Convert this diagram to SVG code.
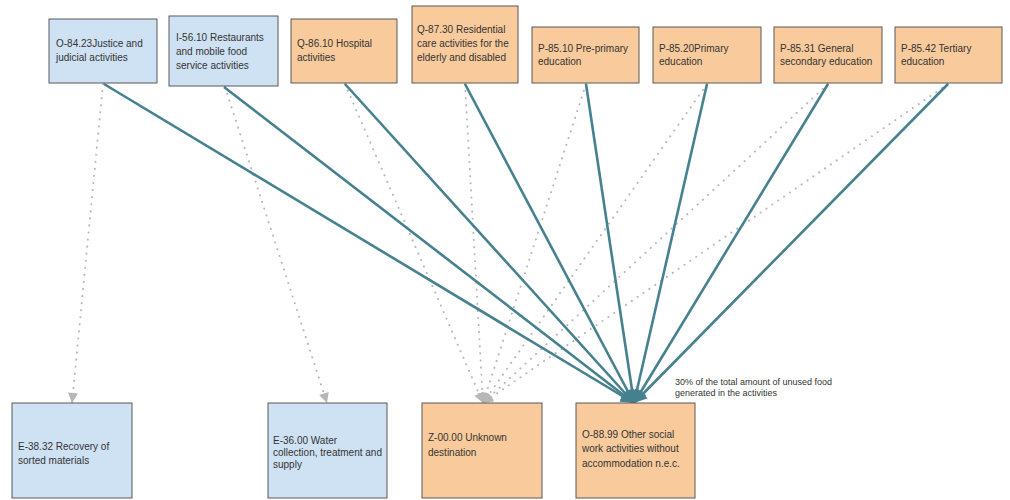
<svg xmlns="http://www.w3.org/2000/svg" width="1010" height="500" viewBox="0 0 1010 500">
<style>
.blue{fill:#cfe2f3;stroke:#595959;stroke-width:1}
.orange{fill:#f9cb9c;stroke:#595959;stroke-width:1}
.t{font-family:"Liberation Sans",Arial,sans-serif;font-size:10px;fill:#333}
.note{font-family:"Liberation Sans",Arial,sans-serif;font-size:9px;fill:#333}
.solid{stroke:#45818e;stroke-width:2.6;fill:none;marker-end:url(#teal)}
.dot{stroke:#b7b7b7;stroke-width:2;fill:none;stroke-linecap:round;stroke-dasharray:0.1 7;marker-end:url(#grey)}
</style>
<defs>
<marker id="teal" viewBox="0 0 10 10" refX="10" refY="5" markerWidth="15" markerHeight="13" markerUnits="userSpaceOnUse" orient="auto">
<path d="M0,0 L10,5 L0,10 z" fill="#45818e"/>
</marker>
<marker id="grey" viewBox="0 0 10 10" refX="10" refY="5" markerWidth="11" markerHeight="10" markerUnits="userSpaceOnUse" orient="auto">
<path d="M0,0 L10,5 L0,10 z" fill="#b7b7b7"/>
</marker>
</defs>
<rect width="1010" height="500" fill="#fff"/>
<g id="connectors">
<line class="dot" x1="103" y1="84" x2="72" y2="403"/>
<line class="dot" x1="225" y1="87" x2="327" y2="403"/>
<line class="dot" x1="345" y1="84" x2="483" y2="403"/>
<line class="dot" x1="465" y1="84" x2="483" y2="403"/>
<line class="dot" x1="586" y1="84" x2="483" y2="403"/>
<line class="dot" x1="707" y1="84" x2="483" y2="403"/>
<line class="dot" x1="828" y1="84" x2="483" y2="403"/>
<line class="dot" x1="948" y1="84" x2="483" y2="403"/>
<line class="solid" x1="104" y1="84" x2="634" y2="403"/>
<line class="solid" x1="224" y1="87" x2="634" y2="403"/>
<line class="solid" x1="345" y1="84" x2="634" y2="403"/>
<line class="solid" x1="465" y1="84" x2="634" y2="403"/>
<line class="solid" x1="586" y1="84" x2="634" y2="403"/>
<line class="solid" x1="707" y1="84" x2="634" y2="403"/>
<line class="solid" x1="828" y1="84" x2="634" y2="403"/>
<line class="solid" x1="948" y1="84" x2="634" y2="403"/>
<text class="note" x="675" y="385">30% of the total amount of unused food</text>
<text class="note" x="675" y="396">generated in the activities</text>
</g>
<g id="n-o8423"><rect class="blue" x="49" y="19" width="108" height="64"/><text class="t" x="56" y="47">O-84.23Justice and</text><text class="t" x="56" y="61">judicial activities</text></g>
<g id="n-i5610"><rect class="blue" x="169" y="16" width="109" height="70"/><text class="t" x="176" y="41">I-56.10 Restaurants</text><text class="t" x="176" y="55">and mobile food</text><text class="t" x="176" y="69">service activities</text></g>
<g id="n-q8610"><rect class="orange" x="291" y="19" width="106" height="64"/><text class="t" x="297" y="47">Q-86.10 Hospital</text><text class="t" x="297" y="61">activities</text></g>
<g id="n-q8730"><rect class="orange" x="412" y="6" width="106" height="77"/><text class="t" x="417" y="33">Q-87.30 Residential</text><text class="t" x="417" y="47">care activities for the</text><text class="t" x="417" y="61">elderly and disabled</text></g>
<g id="n-p8510"><rect class="orange" x="532" y="27" width="107" height="56"/><text class="t" x="538" y="52">P-85.10 Pre-primary</text><text class="t" x="538" y="65">education</text></g>
<g id="n-p8520"><rect class="orange" x="653" y="27" width="108" height="56"/><text class="t" x="659" y="52">P-85.20Primary</text><text class="t" x="659" y="65">education</text></g>
<g id="n-p8531"><rect class="orange" x="774" y="27" width="108" height="56"/><text class="t" x="780" y="52">P-85.31 General</text><text class="t" x="780" y="65">secondary education</text></g>
<g id="n-p8542"><rect class="orange" x="895" y="27" width="107" height="56"/><text class="t" x="901" y="52">P-85.42 Tertiary</text><text class="t" x="901" y="65">education</text></g>
<g id="n-e3832"><rect class="blue" x="12" y="403" width="120" height="95"/><text class="t" x="18" y="450">E-38.32 Recovery of</text><text class="t" x="18" y="464">sorted materials</text></g>
<g id="n-e3600"><rect class="blue" x="268" y="403" width="119" height="95"/><text class="t" x="273" y="444">E-36.00 Water</text><text class="t" x="273" y="456">collection, treatment and</text><text class="t" x="273" y="468">supply</text></g>
<g id="n-z0000"><rect class="orange" x="422" y="403" width="120" height="95"/><text class="t" x="428" y="441">Z-00.00 Unknown</text><text class="t" x="428" y="456">destination</text></g>
<g id="n-o8899"><rect class="orange" x="576" y="403" width="119" height="95"/><text class="t" x="582" y="438">O-88.99 Other social</text><text class="t" x="582" y="452">work activities without</text><text class="t" x="582" y="467">accommodation n.e.c.</text></g>
</svg>
